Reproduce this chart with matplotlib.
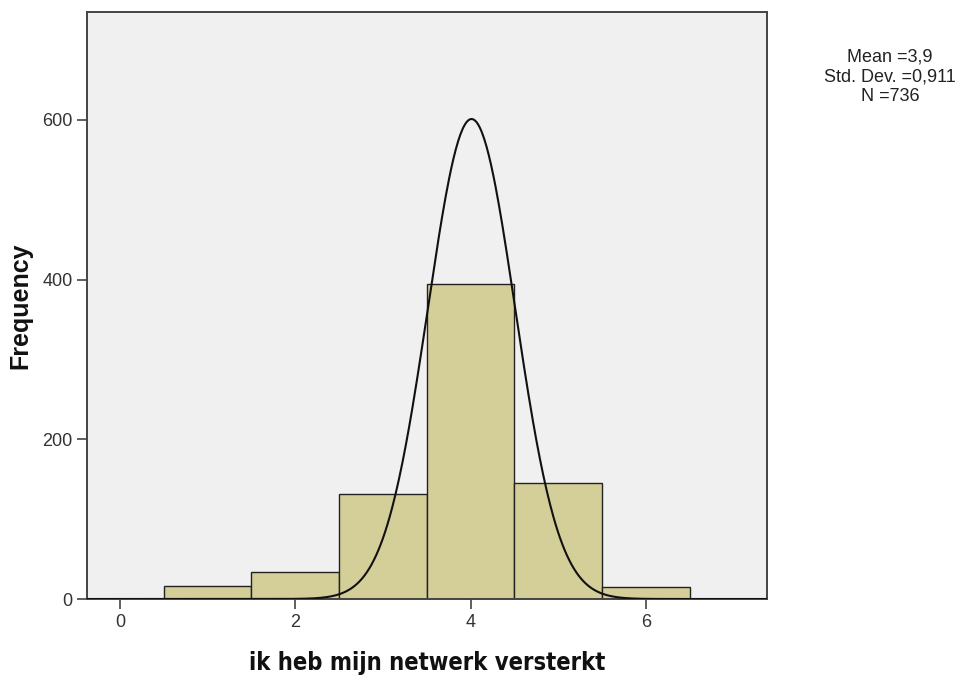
import numpy as np
import matplotlib
matplotlib.use("Agg")
import matplotlib.pyplot as plt

# histogram bins (centres) and counts
bin_centers = [1, 2, 3, 4, 5, 6]
counts = [16, 34, 132, 394, 145, 15]

x_ticks = [0, 2, 4, 6]
y_ticks = [0, 200, 400, 600]

# normal curve as drawn in the chart
curve_center = 4.01
curve_sd = 0.497
curve_peak = 601

stats_text = "Mean =3,9\nStd. Dev. =0,911\nN =736"
x_label = "ik heb mijn netwerk versterkt"
y_label = "Frequency"

fig = plt.figure(figsize=(9.63, 6.81), dpi=100)
ax = fig.add_axes([87 / 963, 82 / 681, 680 / 963, 587 / 681])
ax.set_facecolor("#f0f0f0")

ax.bar(bin_centers, counts, width=1.0, color="#d4ce99",
       edgecolor="#222222", linewidth=1.0, zorder=2)

xs = np.linspace(-0.38, 7.38, 600)
ys = curve_peak * np.exp(-0.5 * ((xs - curve_center) / curve_sd) ** 2)
ax.plot(xs, ys, color="#111111", linewidth=1.5, zorder=3)

ax.set_xlim(-0.376, 7.38)
ax.set_ylim(0, 735)
ax.set_xticks(x_ticks)
ax.set_yticks(y_ticks)

sans = ["Liberation Sans", "DejaVu Sans"]
ax.set_xticklabels([str(t) for t in x_ticks], family=sans, size=13, color="#333333")
ax.set_yticklabels([str(t) for t in y_ticks], family=sans, size=13, color="#333333")
ax.tick_params(axis="x", length=7.5, width=1.2, color="#444444", pad=3)
ax.tick_params(axis="y", length=7, width=1.2, color="#444444", pad=3.5)

for sp in ax.spines.values():
    sp.set_color("#444444")
    sp.set_linewidth(1.4)

ax.set_xlabel(x_label, family="DejaVu Sans", fontstretch="condensed",
              fontweight="bold", size=17, color="#111111", labelpad=15)
ax.set_ylabel(y_label, family=sans,
              fontweight="bold", size=18, color="#111111", labelpad=7)

fig.text(890 / 963, 1 - 77 / 681, stats_text, ha="center", va="center",
         family=sans, size=13, color="#222222", linespacing=1.2)

fig.savefig("out.png", dpi=100, facecolor="white")
